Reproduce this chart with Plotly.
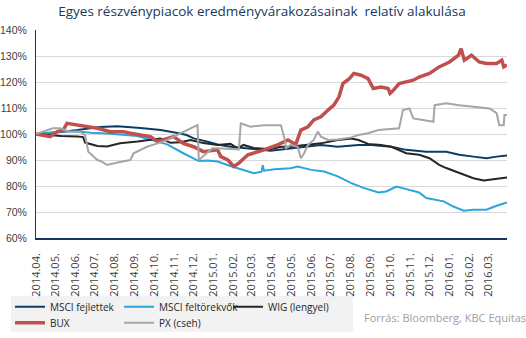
import plotly.graph_objects as go

# ---------------- data ----------------
fej_dates = ["2014-04-01","2014-04-20","2014-05-10","2014-06-04","2014-06-25","2014-07-09","2014-08-05",
             "2014-08-20","2014-09-10","2014-10-11","2014-10-26","2014-11-10","2014-11-20","2014-12-01",
             "2014-12-23","2015-01-07","2015-01-27","2015-02-16","2015-03-10","2015-03-30","2015-04-15",
             "2015-04-30","2015-05-16","2015-06-16","2015-07-12","2015-08-13","2015-09-02","2015-10-03",
             "2015-10-26","2015-11-26","2015-12-27","2016-01-16","2016-02-07","2016-02-27","2016-03-14",
             "2016-03-30"]
fej_vals = [100.0,100.3,100.8,101.5,102.2,102.7,103.0,102.8,102.3,101.5,100.9,100.2,99.6,98.3,97.0,96.0,
            95.1,94.5,94.1,93.6,94.0,94.6,95.0,95.8,95.1,95.8,95.8,95.1,93.9,93.2,93.2,92.0,91.3,90.7,91.3,91.7]

feltor_dates = ["2014-04-01","2014-04-20","2014-05-10","2014-06-04","2014-06-25","2014-07-20","2014-08-14",
                "2014-09-05","2014-09-20","2014-10-06","2014-10-21","2014-11-15","2014-12-01","2014-12-09",
                "2014-12-23","2015-01-07","2015-01-27","2015-02-16","2015-03-04","2015-03-16","2015-03-18",
                "2015-03-20","2015-04-05","2015-04-30","2015-05-11","2015-06-01","2015-06-21","2015-07-12",
                "2015-08-02","2015-08-22","2015-09-13","2015-09-25","2015-10-11","2015-10-26","2015-11-15",
                "2015-11-26","2015-12-23","2016-01-07","2016-01-23","2016-02-07","2016-02-27","2016-03-14",
                "2016-03-30"]
feltor_vals = [100.0,100.5,101.0,101.0,100.5,100.2,99.8,99.2,98.2,97.1,96.0,92.6,90.5,89.6,89.8,89.4,87.7,
               86.2,84.9,85.5,88.0,85.9,86.4,86.8,87.5,86.2,85.6,83.7,81.1,79.2,77.5,77.9,79.8,78.8,77.5,
               75.4,74.1,72.1,70.5,70.9,70.9,72.4,73.7]

wig_dates = ["2014-04-01","2014-04-20","2014-05-10","2014-06-04","2014-06-13","2014-06-16","2014-07-05",
             "2014-07-20","2014-08-09","2014-09-05","2014-09-25","2014-10-11","2014-10-26","2014-11-11",
             "2014-11-26","2014-12-16","2015-01-07","2015-01-27","2015-02-07","2015-02-16","2015-03-04",
             "2015-03-30","2015-04-15","2015-04-30","2015-05-16","2015-06-16","2015-07-12","2015-08-02",
             "2015-08-13","2015-08-28","2015-09-17","2015-10-03","2015-10-26","2015-11-15","2015-12-01",
             "2015-12-16","2015-12-27","2016-01-16","2016-02-07","2016-02-23","2016-03-14","2016-03-30"]
wig_vals = [100.0,99.5,99.2,99.0,98.8,96.7,95.4,95.2,96.4,97.1,97.7,98.3,96.6,96.8,97.7,96.5,95.8,96.2,
            94.5,95.8,94.6,94.1,95.1,95.1,95.6,96.4,97.7,98.3,97.7,96.2,95.8,95.1,92.6,92.0,90.7,88.1,86.9,
            84.9,83.0,82.1,82.8,83.3]

bux_dates = ["2014-04-01","2014-04-12","2014-04-23","2014-05-04","2014-05-13","2014-05-19","2014-05-28",
             "2014-06-13","2014-07-05","2014-07-25","2014-08-14","2014-08-25","2014-09-14","2014-09-25",
             "2014-10-06","2014-10-15","2014-10-31","2014-11-15","2014-12-01","2014-12-16","2015-01-07",
             "2015-01-12","2015-01-23","2015-02-01","2015-02-09","2015-02-23","2015-03-04","2015-03-20",
             "2015-03-30","2015-04-10","2015-04-26","2015-05-08","2015-05-16","2015-05-27","2015-06-05",
             "2015-06-16","2015-06-27","2015-07-06","2015-07-14","2015-07-20","2015-07-30","2015-08-06",
             "2015-08-17","2015-08-28","2015-09-05","2015-09-17","2015-09-28","2015-10-01","2015-10-06",
             "2015-10-15","2015-11-06","2015-11-15","2015-12-01","2015-12-16","2016-01-01","2016-01-15",
             "2016-01-19","2016-01-24","2016-02-04","2016-02-16","2016-02-27","2016-03-14","2016-03-22",
             "2016-03-25","2016-03-30"]
bux_vals = [100.0,99.5,99.0,100.9,101.5,104.1,103.7,103.0,102.2,100.9,100.9,100.3,99.6,99.0,97.1,97.7,99.0,
            96.4,95.1,93.2,93.9,91.3,90.0,87.5,88.8,92.0,92.6,93.9,94.8,95.8,97.7,96.0,101.5,102.8,105.4,
            106.6,109.2,111.1,114.3,119.4,121.3,123.3,122.6,121.3,117.5,118.1,117.5,115.6,116.8,119.4,120.7,
            121.9,123.3,125.8,127.7,130.3,132.8,128.4,130.3,127.7,127.1,127.1,128.4,125.8,126.5]

px_dates = ["2014-04-01","2014-04-27","2014-05-08","2014-05-24","2014-06-08","2014-06-16","2014-06-21",
            "2014-06-29","2014-07-05","2014-07-12","2014-07-20","2014-08-05","2014-08-25","2014-08-30",
            "2014-09-10","2014-09-20","2014-10-06","2014-10-21","2014-11-11","2014-11-26","2014-12-07",
            "2014-12-09","2014-12-23","2014-12-30","2015-01-07","2015-01-27","2015-02-09","2015-02-12",
            "2015-02-27","2015-03-20","2015-04-15","2015-04-20","2015-04-23","2015-04-30","2015-05-11",
            "2015-05-16","2015-05-21","2015-05-27","2015-06-05","2015-06-11","2015-06-16","2015-06-27",
            "2015-07-12","2015-08-02","2015-08-13","2015-08-28","2015-09-13","2015-10-15","2015-10-21",
            "2015-10-31","2015-11-06","2015-11-21","2015-12-07","2015-12-09","2015-12-27","2016-01-16",
            "2016-02-07","2016-03-03","2016-03-14","2016-03-18","2016-03-25","2016-03-26","2016-03-30"]
px_vals = [100.0,102.2,102.2,100.9,100.9,99.6,93.2,91.3,90.0,89.4,88.1,89.0,90.0,92.6,93.9,95.1,96.4,97.7,
           100.3,102.2,103.4,90.0,93.2,94.5,94.5,94.1,94.1,104.1,102.8,103.4,103.4,99.0,94.5,95.8,95.1,90.7,
           92.6,95.8,97.7,100.9,99.0,97.7,97.9,98.7,99.6,100.3,101.5,102.2,109.2,109.8,106.0,105.4,104.7,
           111.1,111.8,111.1,110.5,109.8,108.0,103.4,103.4,107.3,107.3]

series_names = ["MSCI fejlettek", "MSCI feltörekvők", "WIG (lengyel)", "BUX", "PX (cseh)"]
y_ticks = [60, 70, 80, 90, 100, 110, 120, 130, 140]
y_tick_labels = ["60%", "70%", "80%", "90%", "100%", "110%", "120%", "130%", "140%"]
title_text = "Egyes részvénypiacok eredményvárakozásainak  relatív alakulása"
source_text = "Forrás: Bloomberg, KBC Equitas"

# ---------------- figure ----------------
W, H = 526, 338
ml, mr, mt, mb = 36, 19, 29.5, 100
pw, ph = W - ml - mr, H - mt - mb

def px2x(p):
    return (p - ml) / pw

def px2y(p):
    return (H - mb - p) / ph

colors = ["#0F3C62", "#2BA5DA", "#262626", "#C0504D", "#A6A6A6"]
widths = [2, 2, 2, 3.5, 2]
data = [(fej_dates, fej_vals), (feltor_dates, feltor_vals), (wig_dates, wig_vals),
        (bux_dates, bux_vals), (px_dates, px_vals)]
legend_of = ["legend", "legend", "legend", "legend2", "legend2"]

fig = go.Figure()
for (d, v), name, c, w, lg in zip(data, series_names, colors, widths, legend_of):
    fig.add_trace(go.Scatter(x=d, y=v, mode="lines", name=name,
                             line=dict(color=c, width=w), legend=lg))

font = "Open Sans"
axis_col = "#17375E"
tick_col = "#404040"

legend_common = dict(orientation="h", xanchor="left", yanchor="middle",
                     xref="paper", yref="paper", bgcolor="rgba(0,0,0,0)", borderwidth=0,
                     entrywidth=64, entrywidthmode="pixels", itemclick=False,
                     font=dict(family=font, size=10, color="#262626"))

fig.update_layout(
    width=W, height=H,
    margin=dict(l=ml, r=mr, t=mt, b=mb, autoexpand=False),
    paper_bgcolor="white", plot_bgcolor="white",
    title=dict(text=title_text, x=0.498, xref="container", y=1 - 11.5 / H, yref="container",
               xanchor="center", yanchor="middle",
               font=dict(family=font, size=13.5, color="#17375E")),
    xaxis=dict(type="date", range=["2014-04-01", "2016-03-30"], dtick="M1", tick0="2014-04-01",
               tickformat="%Y.%m.", tickangle=-90, showgrid=False, ticks="",
               showline=True, linecolor=axis_col, linewidth=1.5, ticklabelstandoff=9,
               tickfont=dict(family=font, size=11, color=tick_col), zeroline=False),
    yaxis=dict(range=[60, 140], tickvals=y_ticks, ticktext=y_tick_labels, showgrid=True,
               gridcolor="#D9D9D9", gridwidth=1, showline=True, linecolor=axis_col, linewidth=1,
               ticks="", ticklabelstandoff=6, zeroline=False,
               tickfont=dict(family="Liberation Sans", size=10.5, color=tick_col)),
    legend=dict(x=px2x(10), y=px2y(307), **legend_common),
    legend2=dict(x=px2x(10), y=px2y(323), **legend_common),
    shapes=[dict(type="rect", xref="paper", yref="paper", x0=px2x(11), x1=px2x(353),
                 y0=px2y(332), y1=px2y(296), fillcolor="#F2F2F2", line=dict(width=0), layer="below")],
    annotations=[dict(text=source_text, xref="paper", yref="paper", x=px2x(362), y=px2y(318),
                      xanchor="left", yanchor="middle", showarrow=False,
                      font=dict(family=font, size=11, color="#A0A0A0"))],
)

fig.write_html("out.html")
